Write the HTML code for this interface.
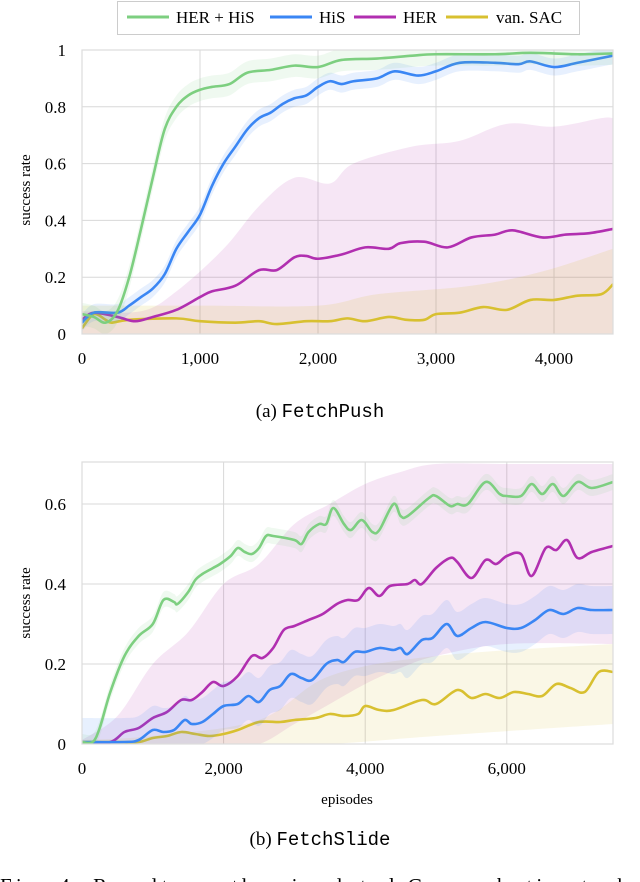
<!DOCTYPE html>
<html><head><meta charset="utf-8"><style>
body{margin:0;background:#fff;width:640px;height:882px;overflow:hidden;font-family:"Liberation Serif",serif}
svg{display:block}
svg text{font-family:"Liberation Serif",serif}
svg tspan.mono{font-family:"Liberation Mono",monospace}
</style></head><body>
<svg id="svg" width="640" height="882" xmlns="http://www.w3.org/2000/svg">
<g>
<rect x="117.5" y="1.5" width="462" height="33" fill="#fff" stroke="#ccc" stroke-width="1"/>
<g><line x1="127" y1="17" x2="169" y2="17" stroke="#7dcf80" stroke-width="3"/><text x="176" y="23" font-size="17">HER + HiS</text></g>
<g><line x1="270" y1="17" x2="312" y2="17" stroke="#3a86f4" stroke-width="3"/><text x="319" y="23" font-size="17">HiS</text></g>
<g><line x1="354" y1="17" x2="396" y2="17" stroke="#b12fb0" stroke-width="3"/><text x="403" y="23" font-size="17">HER</text></g>
<g><line x1="446" y1="17" x2="488" y2="17" stroke="#d8c030" stroke-width="3"/><text x="496" y="23" font-size="17">van. SAC</text></g>
</g>
<g id="c1"></g>
<g id="c2"></g>
<text x="320" y="417" text-anchor="middle" font-size="19">(a) <tspan class="mono">FetchPush</tspan></text>
<text x="347" y="804" text-anchor="middle" font-size="15">episodes</text>
<text x="320" y="845" text-anchor="middle" font-size="19">(b) <tspan class="mono">FetchSlide</tspan></text>
<text x="0" y="893" font-size="21" textLength="640" lengthAdjust="spacing">Fig. 4: Results on the simulated Gym robotics tasks</text>
</svg>
<script>
// ---- FetchPush data ----
const pushGreenX=[0,100,200,300,400,500,600,700,800,900,1000,1100,1250,1400,1600,1800,2000,2200,2500,2800,3000,3500,3800,4200,4500];
const pushGreenY=[0.07,0.06,0.04,0.08,0.2,0.37,0.55,0.72,0.8,0.84,0.86,0.87,0.88,0.92,0.93,0.945,0.94,0.965,0.97,0.98,0.985,0.985,0.99,0.985,0.988];
const pushBlueX=[0,100,300,400,500,600,700,800,900,1000,1100,1200,1300,1400,1500,1600,1700,1800,1900,2000,2100,2200,2300,2500,2650,2850,3000,3200,3500,3700,3800,4000,4200,4500];
const pushBlueY=[0.04,0.075,0.075,0.1,0.13,0.16,0.21,0.3,0.36,0.42,0.52,0.6,0.66,0.72,0.76,0.78,0.81,0.83,0.84,0.87,0.89,0.88,0.89,0.9,0.925,0.91,0.925,0.955,0.955,0.95,0.96,0.94,0.955,0.98];
const pushMagX=[0,100,300,450,600,800,1000,1100,1300,1500,1650,1800,1900,2000,2200,2400,2600,2700,2900,3100,3300,3500,3650,3900,4100,4300,4500];
const pushMagY=[0.05,0.075,0.06,0.045,0.06,0.085,0.13,0.15,0.17,0.225,0.225,0.27,0.275,0.265,0.28,0.305,0.3,0.32,0.325,0.305,0.34,0.35,0.365,0.34,0.35,0.355,0.37];
const pushYelX=[0,100,200,250,400,800,1000,1300,1500,1650,1900,2100,2250,2400,2600,2750,2900,3000,3200,3400,3600,3800,4000,4200,4400,4500];
const pushYelY=[0.02,0.07,0.05,0.04,0.05,0.055,0.045,0.04,0.045,0.035,0.045,0.045,0.055,0.045,0.06,0.05,0.05,0.07,0.075,0.095,0.085,0.12,0.12,0.135,0.14,0.175];
const pushMagBandX=[0,500,800,1200,1500,1800,2100,2300,2800,3200,3600,4000,4400,4500];
const pushMagBandHi=[0.08,0.08,0.15,0.3,0.45,0.55,0.53,0.6,0.66,0.68,0.74,0.73,0.76,0.76];
const pushYelBandX=[0,1000,2000,2500,3300,3900,4500];
const pushYelBandHi=[0.1,0.1,0.1,0.14,0.17,0.22,0.3];
const pushXTicks=[0,1000,2000,3000,4000];
const pushXTickLabels=["0","1,000","2,000","3,000","4,000"];
const pushYTicks=[0,0.2,0.4,0.6,0.8,1];
const pushYTickLabels=["0","0.2","0.4","0.6","0.8","1"];
// ---- FetchSlide data ----
const slideGreenX=[0,150,250,400,600,800,1000,1150,1300,1350,1500,1600,1700,1850,1950,2100,2200,2300,2400,2500,2600,2700,3000,3100,3200,3350,3450,3550,3700,3800,3950,4100,4200,4400,4500,4600,4900,5000,5200,5300,5450,5700,5900,6000,6200,6350,6500,6650,6800,7000,7200,7500];
const slideGreenY=[0.005,0.005,0.04,0.13,0.22,0.27,0.3,0.36,0.355,0.35,0.38,0.41,0.425,0.44,0.45,0.47,0.49,0.48,0.475,0.49,0.52,0.52,0.51,0.5,0.53,0.55,0.55,0.59,0.55,0.535,0.56,0.53,0.535,0.6,0.57,0.57,0.615,0.62,0.595,0.6,0.6,0.655,0.625,0.62,0.62,0.65,0.625,0.65,0.62,0.655,0.64,0.655];
const slideMagX=[0,400,600,800,1000,1200,1400,1550,1700,1850,2000,2200,2400,2550,2700,2850,3000,3200,3400,3600,3750,3900,4050,4200,4350,4600,4700,4800,5000,5200,5300,5500,5700,5850,6000,6200,6350,6550,6700,6850,7000,7200,7500];
const slideMagY=[0,0.005,0.03,0.04,0.065,0.08,0.11,0.11,0.13,0.155,0.145,0.17,0.22,0.215,0.24,0.285,0.295,0.31,0.325,0.35,0.36,0.36,0.39,0.37,0.395,0.4,0.41,0.4,0.44,0.465,0.455,0.415,0.46,0.45,0.47,0.475,0.42,0.49,0.485,0.51,0.465,0.48,0.495];
const slideBlueX=[0,600,800,1000,1150,1300,1450,1550,1700,1850,2000,2200,2350,2500,2650,2800,2950,3100,3250,3450,3600,3700,3850,4000,4200,4400,4500,4600,4800,4950,5150,5300,5500,5700,6000,6200,6400,6600,6800,7000,7200,7500];
const slideBlueY=[0.005,0.005,0.01,0.035,0.03,0.035,0.06,0.05,0.055,0.075,0.095,0.1,0.12,0.105,0.135,0.145,0.175,0.165,0.16,0.2,0.21,0.205,0.23,0.23,0.24,0.235,0.24,0.225,0.26,0.265,0.3,0.27,0.29,0.305,0.29,0.29,0.31,0.335,0.325,0.34,0.335,0.335];
const slideYelX=[0,500,800,1000,1200,1400,1600,1800,2000,2200,2500,2800,3000,3300,3500,3700,3900,4000,4200,4400,4800,5000,5300,5500,5700,5900,6100,6300,6500,6700,6900,7100,7300,7500];
const slideYelY=[0.005,0.005,0.005,0.015,0.02,0.03,0.025,0.02,0.025,0.035,0.055,0.055,0.06,0.065,0.075,0.07,0.075,0.095,0.085,0.085,0.11,0.1,0.135,0.115,0.125,0.115,0.13,0.125,0.12,0.15,0.14,0.13,0.18,0.18];
const slideMagBandX=[0,500,1000,1500,2000,2500,3000,3500,4000,4500,5000,6000,7500];
const slideMagBandLo=[0,0,0,0,0,0,0.05,0.1,0.15,0.19,0.22,0.25,0.25];
const slideMagBandHi=[0.01,0.07,0.2,0.28,0.4,0.45,0.55,0.6,0.65,0.68,0.7,0.7,0.7];
const slideYelBandX=[0,1000,2500,3500,5000,7500];
const slideYelBandLo=[0,0,0,0,0.02,0.05];
const slideYelBandHi=[0.01,0.02,0.06,0.17,0.22,0.25];
const slideXTicks=[0,2000,4000,6000];
const slideXTickLabels=["0","2,000","4,000","6,000"];
const slideYTicks=[0,0.2,0.4,0.6];
const slideYTickLabels=["0","0.2","0.4","0.6"];

const NS="http://www.w3.org/2000/svg";
const COL={g:"#7dcf80",b:"#3a86f4",m:"#b12fb0",y:"#d8c030"};
function mk(parent,tag,attrs){const e=document.createElementNS(NS,tag);for(const k in attrs)e.setAttribute(k,attrs[k]);parent.appendChild(e);return e;}
function smooth(pts){let d="M"+pts[0][0]+","+pts[0][1];for(let i=0;i<pts.length-1;i++){const p0=pts[i-1]||pts[i],p1=pts[i],p2=pts[i+1],p3=pts[i+2]||p2;d+=" C"+(p1[0]+(p2[0]-p0[0])/6)+","+(p1[1]+(p2[1]-p0[1])/6)+" "+(p2[0]-(p3[0]-p1[0])/6)+","+(p2[1]-(p3[1]-p1[1])/6)+" "+p2[0]+","+p2[1];}return d;}
function chart(g,cfg){
  const sx=v=>cfg.x0+(v-0)/cfg.xmax*(cfg.x1-cfg.x0);
  const sy=v=>cfg.y0-(v/cfg.ymax)*(cfg.y0-cfg.y1);
  const clipId="clip"+cfg.id;
  const defs=mk(g,"defs",{});const cp=mk(defs,"clipPath",{id:clipId});mk(cp,"rect",{x:cfg.x0,y:cfg.y1,width:cfg.x1-cfg.x0,height:cfg.y0-cfg.y1});
  const grid=mk(g,"g",{});
  
  
  cfg.xt.forEach(t=>mk(grid,"line",{x1:sx(t),x2:sx(t),y1:cfg.y1,y2:cfg.y0,stroke:"#d8d8d8","stroke-width":1}));
  cfg.yt.forEach(t=>mk(grid,"line",{x1:cfg.x0,x2:cfg.x1,y1:sy(t),y2:sy(t),stroke:"#d8d8d8","stroke-width":1}));
  const plot=mk(g,"g",{"clip-path":"url(#"+clipId+")"});
  cfg.bands.forEach(b=>{
    const up=b.x.map((x,i)=>[sx(x),sy(b.hi[i])]);
    const lo=b.x.map((x,i)=>[sx(x),sy(b.lo[i])]).reverse();
    const d=smooth(up)+" L"+smooth(lo).slice(1)+" Z";
    const p=mk(plot,"path",{d:d,fill:b.c,"fill-opacity":b.o});
    
    
  });
  cfg.series.forEach(s=>{
    const pts=s.x.map((x,i)=>[sx(x),sy(s.y[i])]);
    const hi=s.x.map((x,i)=>[sx(x),sy(s.y[i]+s.w)]);
    const lo=s.x.map((x,i)=>[sx(x),sy(Math.max(0,s.y[i]-s.w))]).reverse();
    const bp=mk(plot,"path",{d:smooth(hi)+" L"+smooth(lo).slice(1)+" Z",fill:s.c,"fill-opacity":0.12});
    
    
    const p=mk(plot,"path",{d:smooth(pts),fill:"none",stroke:s.c,"stroke-width":2.6,"stroke-linejoin":"round"});
    
    
  });
  mk(g,"rect",{x:cfg.x0,y:cfg.y1,width:cfg.x1-cfg.x0,height:cfg.y0-cfg.y1,fill:"none",stroke:"#dcdcdc","stroke-width":1.2});
  cfg.xt.forEach((t,i)=>{const e=mk(g,"text",{x:sx(t),y:cfg.y0+30,"text-anchor":"middle","font-size":17});e.textContent=cfg.xl[i];
    
    });
  cfg.yt.forEach((t,i)=>{const e=mk(g,"text",{x:cfg.x0-16,y:sy(t)+6,"text-anchor":"end","font-size":17});e.textContent=cfg.yl[i];
    
    });
  const yt=mk(g,"text",{x:0,y:0,"text-anchor":"middle","font-size":15,transform:"translate(30,"+cfg.yTitleY+") rotate(-90)"});yt.textContent="success rate";
  
  
}
chart(document.getElementById("c1"),{id:1,x0:82,x1:613,y0:334,y1:50,xmax:4500,ymax:1.0,yTitleY:190,
  xt:pushXTicks,xl:pushXTickLabels,yt:pushYTicks,yl:pushYTickLabels,
  bands:[{name:"her-band",x:pushMagBandX,lo:pushMagBandX.map(()=>0),hi:pushMagBandHi,c:COL.m,o:0.12},
         {name:"sac-band",x:pushYelBandX,lo:pushYelBandX.map(()=>0),hi:pushYelBandHi,c:COL.y,o:0.15}],
  series:[{name:"sac",x:pushYelX,y:pushYelY,c:COL.y,w:0},
          {name:"her",x:pushMagX,y:pushMagY,c:COL.m,w:0},
          {name:"his",x:pushBlueX,y:pushBlueY,c:COL.b,w:0.03},
          {name:"her-his",x:pushGreenX,y:pushGreenY,c:COL.g,w:0.04}]});
chart(document.getElementById("c2"),{id:2,x0:82,x1:613,y0:744,y1:462,xmax:7500,ymax:0.705,yTitleY:603,
  xt:slideXTicks,xl:slideXTickLabels,yt:slideYTicks,yl:slideYTickLabels,
  bands:[{name:"her-band",x:slideMagBandX,lo:slideMagBandLo,hi:slideMagBandHi,c:COL.m,o:0.12},
         {name:"sac-band",x:slideYelBandX,lo:slideYelBandLo,hi:slideYelBandHi,c:COL.y,o:0.12}],
  series:[{name:"sac",x:slideYelX,y:slideYelY,c:COL.y,w:0},
          {name:"her",x:slideMagX,y:slideMagY,c:COL.m,w:0},
          {name:"his",x:slideBlueX,y:slideBlueY,c:COL.b,w:0.06},
          {name:"her-his",x:slideGreenX,y:slideGreenY,c:COL.g,w:0.02}]});
</script>
</body></html>
